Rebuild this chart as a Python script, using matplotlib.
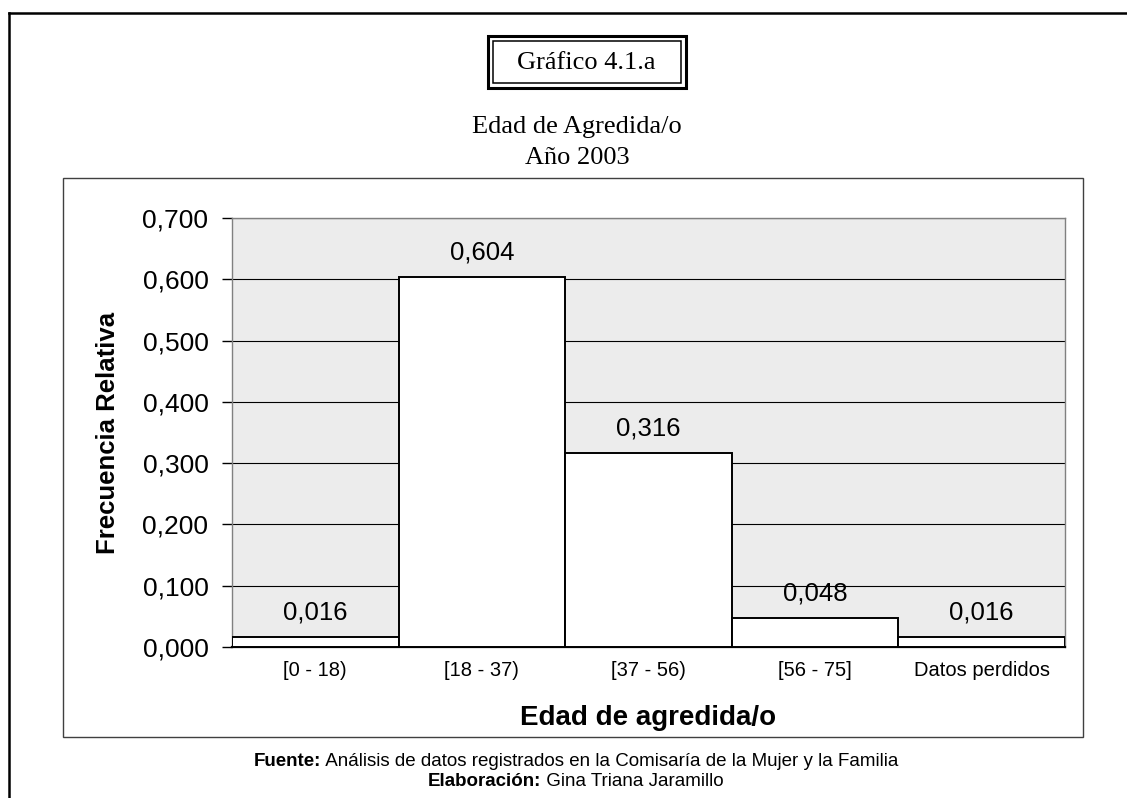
import matplotlib
matplotlib.use("Agg")
import matplotlib.pyplot as plt
from matplotlib.patches import Rectangle
from matplotlib.lines import Line2D
from matplotlib.ticker import FuncFormatter, MultipleLocator

categorias = ["[0 - 18)", "[18 - 37)", "[37 - 56)", "[56 - 75]", "Datos perdidos"]
frecuencia = [0.016, 0.604, 0.316, 0.048, 0.016]

W, H = 1127, 798
fig = plt.figure(figsize=(W / 100, H / 100), dpi=100)
plt.rcParams['font.family'] = ['Liberation Sans', 'DejaVu Sans']


def fx(px):
    return px / W


def fy(py):
    return 1 - py / H


# outer page frame (top and left)
fig.add_artist(Line2D([fx(9), fx(W)], [fy(12.5), fy(12.5)], color='black', lw=1.8,
                      transform=fig.transFigure))
fig.add_artist(Line2D([fx(9), fx(9)], [fy(12.5), 0], color='black', lw=1.8,
                      transform=fig.transFigure))

# chart frame
fig.add_artist(Rectangle((fx(63), fy(737)), fx(1083) - fx(63), fy(178) - fy(737),
                         fill=False, ec='#404040', lw=1.0, transform=fig.transFigure))

# title box with double border
fig.add_artist(Rectangle((fx(488), fy(88)), fx(686) - fx(488), fy(36) - fy(88),
                         fill=False, ec='black', lw=2.2, transform=fig.transFigure))
fig.add_artist(Rectangle((fx(493), fy(83)), fx(681) - fx(493), fy(41) - fy(83),
                         fill=False, ec='black', lw=1.1, transform=fig.transFigure))
fig.text(fx(586), fy(63), "Gráfico 4.1.a", family='Liberation Serif', fontsize=19,
         ha='center', va='center')

fig.text(fx(577), fy(127), "Edad de Agredida/o", family='Liberation Serif', fontsize=19,
         ha='center', va='center')
fig.text(fx(577), fy(158), "Año 2003", family='Liberation Serif', fontsize=19,
         ha='center', va='center')

ax = fig.add_axes([fx(232), fy(647), fx(1065) - fx(232), fy(218) - fy(647)])
ax.set_facecolor('#ECECEC')

x = range(len(categorias))
bars = ax.bar(x, frecuencia, width=1.0, color='white', edgecolor='black', lw=1.4, zorder=3)
ax.set_xlim(-0.5, len(categorias) - 0.5)
ax.set_ylim(0, 0.7)

ax.yaxis.set_major_locator(MultipleLocator(0.1))
ax.yaxis.set_major_formatter(FuncFormatter(lambda v, p: f"{v:.3f}".replace('.', ',')))
ax.grid(axis='y', color='black', lw=0.8, zorder=1)
ax.set_axisbelow(True)

for v, b in zip(frecuencia, bars):
    ax.annotate(f"{v:.3f}".replace('.', ','), (b.get_x() + b.get_width() / 2, v),
                xytext=(0, 9), textcoords='offset points', ha='center', va='bottom',
                fontsize=18.5, zorder=4)

ax.set_xticks(list(x))
ax.set_xticklabels(categorias)
ax.tick_params(axis='x', length=0, pad=10, labelsize=14.5)
ax.tick_params(axis='y', length=7, width=1, pad=10, labelsize=19, color='black')

for s in ['top', 'left', 'right']:
    ax.spines[s].set_color('#808080')
    ax.spines[s].set_linewidth(1.0)
ax.spines['bottom'].set_color('black')
ax.spines['bottom'].set_linewidth(1.6)

ax.set_ylabel("Frecuencia Relativa", fontsize=18.5, fontweight='bold', labelpad=16)
ax.set_xlabel("Edad de agredida/o", fontsize=20, fontweight='bold', labelpad=18)

# source lines: bold prefix followed by regular text, centred as one line
fig.canvas.draw()
renderer = fig.canvas.get_renderer()
for py, bold, rest in [(762, "Fuente:", " Análisis de datos registrados en la Comisaría de la Mujer y la Familia"),
                       (781, "Elaboración:", " Gina Triana Jaramillo")]:
    t1 = fig.text(0, fy(py), bold, fontsize=13.5, fontweight='bold', va='center')
    t2 = fig.text(0, fy(py), rest, fontsize=13.5, va='center')
    w1 = t1.get_window_extent(renderer).width
    w2 = t2.get_window_extent(renderer).width
    x0 = 576 - (w1 + w2) / 2
    t1.set_x(fx(x0))
    t2.set_x(fx(x0 + w1))

fig.savefig("out.png", dpi=100)
